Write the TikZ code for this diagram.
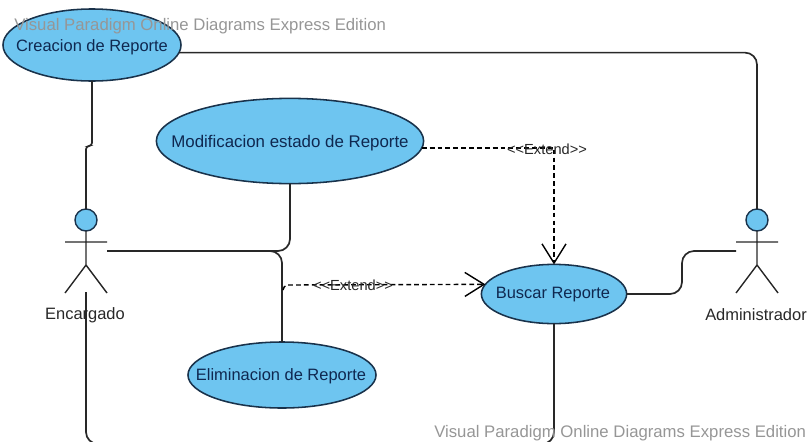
\documentclass[tikz,border=0pt]{standalone}
\usepackage{fontspec}
\setmainfont{Liberation Sans}
\usepackage{tikz}
\usetikzlibrary{arrows.meta,shapes.geometric}
\definecolor{usecasefill}{RGB}{110,197,240}
\definecolor{usecaseline}{RGB}{25,50,75}
\definecolor{usecasetext}{RGB}{15,40,80}
\definecolor{linegray}{RGB}{40,40,40}
\definecolor{markgray}{RGB}{150,150,150}

\begin{document}
\begin{tikzpicture}[
x=0.025cm,y=-0.025cm,
font=\fontsize{11.7}{14}\selectfont,
usecase/.style={ellipse,draw=usecaseline,fill=usecasefill,line width=1.1pt,inner sep=0pt,outer sep=0pt,text=usecasetext},
head/.style={circle,draw=usecaseline,fill=usecasefill,line width=1pt,minimum size=0.55cm,inner sep=0pt,outer sep=0pt},
actorlabel/.style={text=linegray},
stick/.style={draw=linegray,line width=1pt},
assoc/.style={draw=linegray,line width=1.2pt,rounded corners=0.3cm},
extend/.style={draw=black,line width=1pt,dash pattern=on 3.4pt off 2.2pt,-{Straight Barb[length=0.48cm,width=0.6cm,line width=1pt]}},
stereo/.style={font=\fontsize{10.4}{12}\selectfont,text=black!85,inner sep=0pt},
watermark/.style={font=\fontsize{11.9}{14}\selectfont,text=markgray,inner sep=0pt}]
    \clip (0,0) rectangle (808,441);
    % use cases
    \node[usecase,minimum width=4.45cm,minimum height=1.8cm] (creacion) at (92,45) {};
    \node[usecase,minimum width=6.68cm,minimum height=2.13cm] (modificacion) at (290,141) {};
    \node[usecase,minimum width=4.7cm,minimum height=1.65cm] (eliminacion) at (282,375) {};
    \node[usecase,minimum width=3.63cm,minimum height=1.48cm] (buscar) at (554,294) {};

    % actors
    \node[head] (encHead) at (86,220) {};
    \draw[stick]
    	(65,242) coordinate (encArmL) -- (107,242) coordinate (encArmR)
    	(encHead.south) -- (86,265) coordinate (encHip)
    	(65,293) coordinate (encLegL) -- (encHip) -- (107,293) coordinate (encLegR);
    \node[actorlabel] (encargado) at (85,315) {Encargado};

    \node[head] (admHead) at (757,220) {};
    \draw[stick]
    	(736,242) coordinate (admArmL) -- (778,242) coordinate (admArmR)
    	(admHead.south) -- (757,265) coordinate (admHip)
    	(736,293) coordinate (admLegL) -- (admHip) -- (778,293) coordinate (admLegR);
    \node[actorlabel] (administrador) at (756,315) {Administrador};

    \draw
  	(107,251) coordinate (encHand)
  	(86,292) coordinate (encFoot)
  	(736,251) coordinate (admHand)
  	(283,290) coordinate (extStart);

    % associations
    \draw[assoc,rounded corners=0.08cm] (creacion.south) -- (92,146) -- (86,146) -- (encHead.north);
    \draw[assoc] (creacion.-5) -| (admHead.north);
    \draw[assoc] (encHand) -- (290,251) -- (modificacion.south);
    \draw[assoc] (encHand) -- (282,251) -- (eliminacion.north);
    \draw[assoc] (encFoot) -- (86,444) -- (554,444) -- (buscar.south);
    \draw[assoc] (buscar.east) -- (682,294) -- (682,251) -- (admHand);

    % extends
    \draw[extend] (modificacion.-3) -| (buscar.north);
    \draw[extend,rounded corners=0.05cm] (extStart) -- (285,285) -- (buscar.172);
    \node[stereo] (extendA) at (547,149) {<{}<Extend>{}>};
    \node[stereo] (extendB) at (353,285) {<{}<Extend>{}>};

    % texts on top
    \node[text=usecasetext] (creacionText) at (92,47) {Creacion de Reporte};
    \node[text=usecasetext] (modificacionText) at (290,143) {\fontsize{12}{14}\selectfont Modificacion estado de Reporte};
    \node[text=usecasetext] (eliminacionText) at (281,376) {Eliminacion de Reporte};
    \node[text=usecasetext] (buscarText) at (553,295) {Buscar Reporte};
    \node[watermark,anchor=west] (markTop) at (14,26) {Visual Paradigm Online Diagrams Express Edition};
    \node[watermark,anchor=west] (markBottom) at (434,433) {Visual Paradigm Online Diagrams Express Edition};
\end{tikzpicture}
\end{document}
